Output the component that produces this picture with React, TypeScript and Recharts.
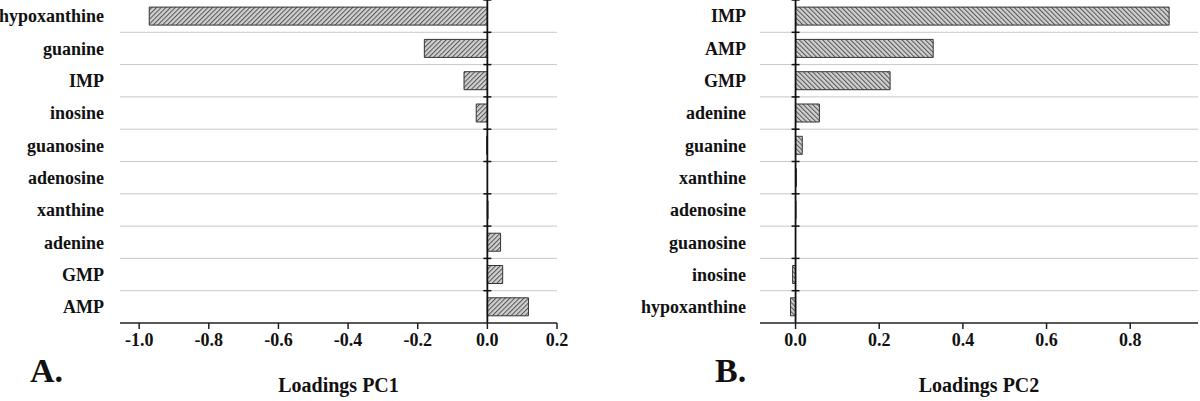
import React from "react";
import {
  BarChart,
  Bar,
  XAxis,
  YAxis,
  CartesianGrid,
  ReferenceLine,
} from "recharts";

const pc1Names = [
  "hypoxanthine",
  "guanine",
  "IMP",
  "inosine",
  "guanosine",
  "adenosine",
  "xanthine",
  "adenine",
  "GMP",
  "AMP",
];
const pc1Values = [-0.971, -0.181, -0.067, -0.032, -0.002, 0.0, 0.002, 0.038, 0.044, 0.118];
const pc1Ticks = [-1.0, -0.8, -0.6, -0.4, -0.2, 0.0, 0.2];

const pc2Names = [
  "IMP",
  "AMP",
  "GMP",
  "adenine",
  "guanine",
  "xanthine",
  "adenosine",
  "guanosine",
  "inosine",
  "hypoxanthine",
];
const pc2Values = [0.893, 0.329, 0.226, 0.057, 0.016, 0.002, 0.001, 0.0, -0.007, -0.012];
const pc2Ticks = [0.0, 0.2, 0.4, 0.6, 0.8];

const FONT = "'Liberation Serif', 'Times New Roman', serif";

function CatTick(props: any) {
  const { x, y, payload, shift } = props;
  return (
    <text
      x={x + shift}
      y={y}
      dy="0.35em"
      textAnchor="end"
      fontFamily={FONT}
      fontWeight="bold"
      fontSize={18}
      fill="#111"
    >
      {payload.value}
    </text>
  );
}

// zero line with small tick marks at each category boundary
function zeroLine(n: number) {
  return (p: any) => {
    const top = Math.min(p.y1, p.y2);
    const bottom = Math.max(p.y1, p.y2);
    const step = (bottom - top) / n;
    const marks = [];
    for (let i = 0; i < n; i++) {
      const yy = top + i * step;
      marks.push(
        <line key={i} x1={p.x1 - 4} x2={p.x1 + 4} y1={yy} y2={yy} stroke="#111" strokeWidth={1.5} />
      );
    }
    return (
      <g>
        <line x1={p.x1} x2={p.x2} y1={p.y1} y2={p.y2} stroke="#111" strokeWidth={1.8} />
        {marks}
      </g>
    );
  };
}

function LoadingsChart(props: {
  names: string[];
  values: number[];
  ticks: number[];
  domain: [number, number];
  title: string;
  patternId: string;
  angle: number;
  axisWidth: number;
  right: number;
  shift: number;
}) {
  const { names, values, ticks, domain, title, patternId, angle, axisWidth, right, shift } = props;
  const data = names.map((name, i) => ({ name, value: values[i] }));
  const n = names.length;
  return (
    <BarChart
      width={600}
      height={401}
      data={data}
      layout="vertical"
      margin={{ top: 0, right, bottom: 0, left: 0 }}
      barCategoryGap="22%"
    >
      <defs>
        <pattern
          id={patternId}
          patternUnits="userSpaceOnUse"
          width={3.3}
          height={3.3}
          patternTransform={`rotate(${angle})`}
        >
          <rect width={3.3} height={3.3} fill="#cfcfcf" />
          <line x1={0.5} y1={0} x2={0.5} y2={3.3} stroke="#555" strokeWidth={1} />
        </pattern>
      </defs>
      <CartesianGrid
        vertical={false}
        stroke="#c8c8c8"
        horizontalCoordinatesGenerator={({ offset, height }: any) => {
          const h = height - offset.top - offset.bottom;
          const out: number[] = [];
          for (let i = 1; i < n; i++) out.push(offset.top + (i * h) / n);
          return out;
        }}
      />
      <XAxis
        type="number"
        domain={domain}
        ticks={ticks}
        height={78}
        tickMargin={4}
        tickFormatter={(v: number) => v.toFixed(1)}
        axisLine={{ stroke: "#222", strokeWidth: 1.5 }}
        tickLine={{ stroke: "#222", strokeWidth: 1.5 }}
        tick={{ fontFamily: FONT, fontWeight: "bold", fontSize: 18, fill: "#111" }}
        label={{
          value: title,
          position: "insideBottom",
          offset: 9,
          style: { fontFamily: FONT, fontWeight: "bold", fontSize: 20, fill: "#111" },
        }}
      />
      <YAxis
        type="category"
        dataKey="name"
        width={axisWidth}
        axisLine={false}
        tickLine={false}
        interval={0}
        tick={<CatTick shift={shift} />}
      />
      <Bar
        dataKey="value"
        fill={`url(#${patternId})`}
        stroke="#333"
        strokeWidth={1}
        isAnimationActive={false}
      />
      <ReferenceLine x={0} shape={zeroLine(n)} />
    </BarChart>
  );
}

export default function App() {
  return (
    <div style={{ position: "absolute", left: 0, top: 0, width: 1200, height: 401, background: "#fff" }}>
      <div style={{ position: "absolute", left: 0, top: 0 }}>
        <LoadingsChart
          names={pc1Names}
          values={pc1Values}
          ticks={pc1Ticks}
          domain={[-1.055, 0.2]}
          title="Loadings PC1"
          patternId="hatchA"
          angle={45}
          axisWidth={120}
          right={43}
          shift={-8}
        />
      </div>
      <div style={{ position: "absolute", left: 600, top: 0 }}>
        <LoadingsChart
          names={pc2Names}
          values={pc2Values}
          ticks={pc2Ticks}
          domain={[-0.085, 0.962]}
          title="Loadings PC2"
          patternId="hatchB"
          angle={-45}
          axisWidth={160}
          right={2}
          shift={-6}
        />
      </div>
      <svg
        width={1200}
        height={401}
        style={{ position: "absolute", left: 0, top: 0, pointerEvents: "none" }}
      >
        <text x={30} y={382} fontFamily={FONT} fontWeight="bold" fontSize={34} fill="#111">
          A.
        </text>
        <text x={715} y={382} fontFamily={FONT} fontWeight="bold" fontSize={34} fill="#111">
          B.
        </text>
      </svg>
    </div>
  );
}
